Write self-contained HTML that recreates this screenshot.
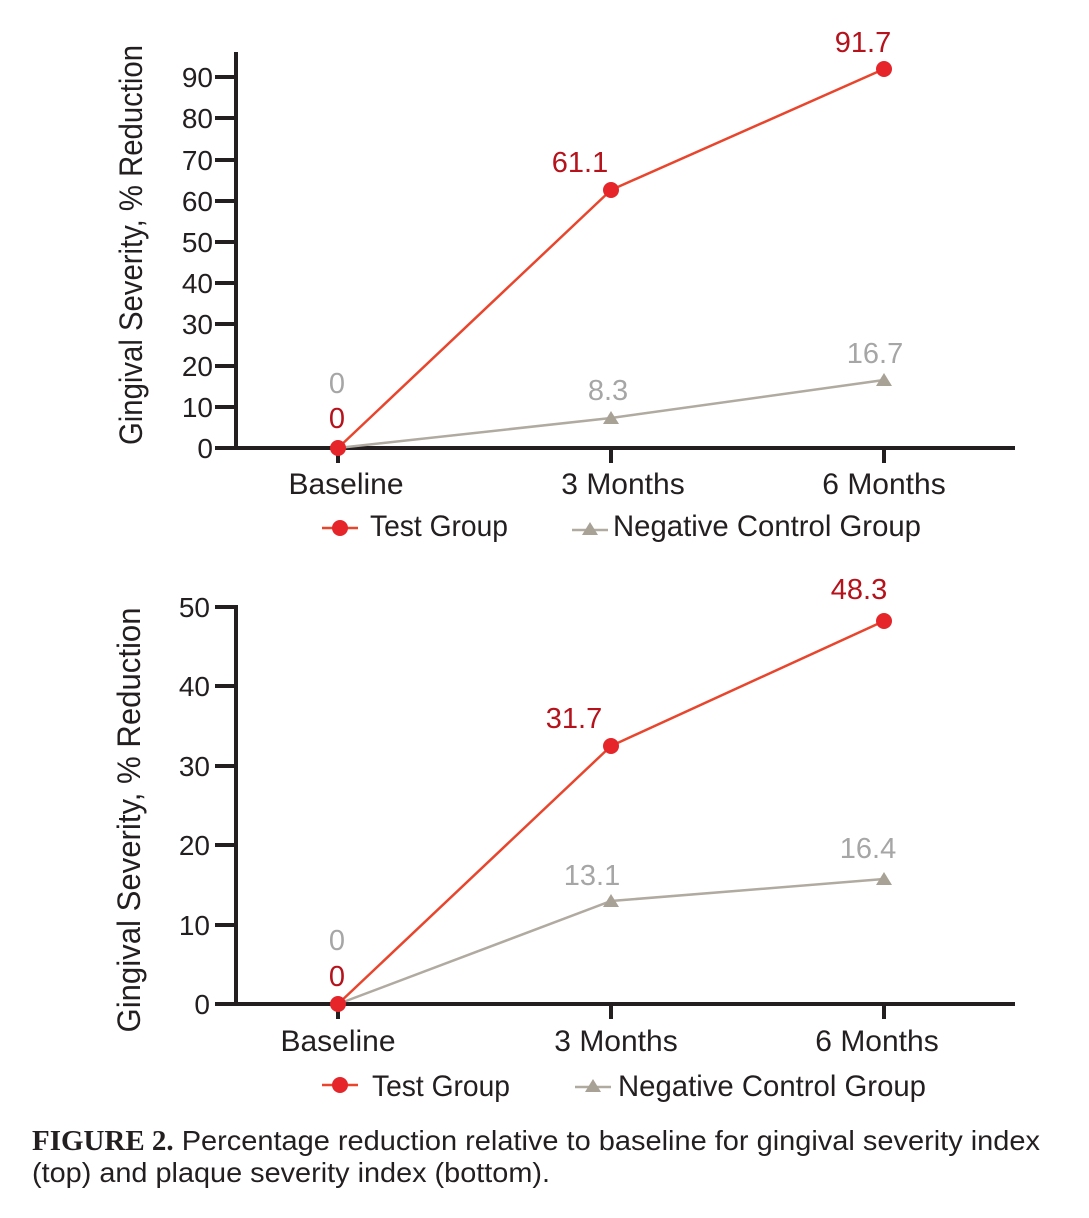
<!DOCTYPE html>
<html><head><style>
body{margin:0;background:#fff;}
svg{display:block;}
text{font-family:"Liberation Sans",sans-serif;}
</style></head><body>
<svg width="1089" height="1218" viewBox="0 0 1089 1218" xmlns="http://www.w3.org/2000/svg">
<!-- TOP CHART -->
<g stroke="#231f20" stroke-width="4" fill="none">
<line x1="236" y1="52" x2="236" y2="450"/>
<line x1="215" y1="448" x2="1015" y2="448"/>
<line x1="338" y1="448" x2="338" y2="463"/>
<line x1="611" y1="448" x2="611" y2="463"/>
<line x1="884" y1="448" x2="884" y2="463"/>
<line x1="215" y1="77" x2="236" y2="77"/>
<line x1="215" y1="118" x2="236" y2="118"/>
<line x1="215" y1="160" x2="236" y2="160"/>
<line x1="215" y1="201" x2="236" y2="201"/>
<line x1="215" y1="242" x2="236" y2="242"/>
<line x1="215" y1="283" x2="236" y2="283"/>
<line x1="215" y1="324" x2="236" y2="324"/>
<line x1="215" y1="366" x2="236" y2="366"/>
<line x1="215" y1="407" x2="236" y2="407"/>
</g>
<g font-size="28" fill="#231f20" text-anchor="end">
<text x="213" y="87">90</text><text x="213" y="128">80</text><text x="213" y="170">70</text>
<text x="213" y="211">60</text><text x="213" y="252">50</text><text x="213" y="293">40</text>
<text x="213" y="334">30</text><text x="213" y="376">20</text><text x="213" y="417">10</text>
<text x="213" y="458">0</text>
</g>
<text transform="translate(142,245) rotate(-90)" font-size="32" fill="#231f20" text-anchor="middle" textLength="400" lengthAdjust="spacingAndGlyphs">Gingival Severity, % Reduction</text>
<polyline points="338,448 611,418 884,380" stroke="#b0aaa0" stroke-width="2.5" fill="none"/>
<polygon points="611,411 603,424 619,424" fill="#a8a296"/>
<polygon points="884,373 876,386 892,386" fill="#a8a296"/>
<polyline points="338,448 611,190 884,69" stroke="#e8452c" stroke-width="2.5" fill="none"/>
<circle cx="338" cy="448" r="8" fill="#e5252a"/>
<circle cx="611" cy="190" r="8" fill="#e5252a"/>
<circle cx="884" cy="69" r="8" fill="#e5252a"/>
<g font-size="29" text-anchor="middle">
<text x="337" y="393" fill="#a6a6a6">0</text>
<text x="337" y="428" fill="#b5121b">0</text>
<text x="608" y="400" fill="#a6a6a6">8.3</text>
<text x="875" y="363" fill="#a6a6a6">16.7</text>
<text x="580" y="172" fill="#b5121b">61.1</text>
<text x="863" y="52" fill="#b5121b">91.7</text>
</g>
<g font-size="30" fill="#231f20" text-anchor="middle">
<text x="346" y="494">Baseline</text>
<text x="623" y="494">3 Months</text>
<text x="884" y="494">6 Months</text>
</g>
<line x1="322" y1="528" x2="358" y2="528" stroke="#e8452c" stroke-width="2.5"/>
<circle cx="340" cy="528" r="8" fill="#e5252a"/>
<text x="370" y="536" font-size="30" fill="#231f20" textLength="138" lengthAdjust="spacingAndGlyphs">Test Group</text>
<line x1="572" y1="530" x2="608" y2="530" stroke="#b0aaa0" stroke-width="2.5"/>
<polygon points="590,522 582,535 598,535" fill="#a8a296"/>
<text x="613" y="536" font-size="30" fill="#231f20" textLength="308" lengthAdjust="spacingAndGlyphs">Negative Control Group</text>

<!-- BOTTOM CHART -->
<g stroke="#231f20" stroke-width="4" fill="none">
<line x1="236" y1="605" x2="236" y2="1006"/>
<line x1="215" y1="1004" x2="1015" y2="1004"/>
<line x1="338" y1="1004" x2="338" y2="1019"/>
<line x1="611" y1="1004" x2="611" y2="1019"/>
<line x1="884" y1="1004" x2="884" y2="1019"/>
<line x1="215" y1="607" x2="236" y2="607"/>
<line x1="215" y1="686" x2="236" y2="686"/>
<line x1="215" y1="766" x2="236" y2="766"/>
<line x1="215" y1="845" x2="236" y2="845"/>
<line x1="215" y1="925" x2="236" y2="925"/>
</g>
<g font-size="28" fill="#231f20" text-anchor="end">
<text x="210" y="617">50</text><text x="210" y="696">40</text><text x="210" y="776">30</text>
<text x="210" y="855">20</text><text x="210" y="935">10</text><text x="210" y="1014">0</text>
</g>
<text transform="translate(140,820) rotate(-90)" font-size="32" fill="#231f20" text-anchor="middle" textLength="425" lengthAdjust="spacingAndGlyphs">Gingival Severity, % Reduction</text>
<polyline points="338,1004 611,901 884,879" stroke="#b0aaa0" stroke-width="2.5" fill="none"/>
<polygon points="611,894 603,907 619,907" fill="#a8a296"/>
<polygon points="884,872 876,885 892,885" fill="#a8a296"/>
<polyline points="338,1004 611,746 884,621" stroke="#e8452c" stroke-width="2.5" fill="none"/>
<circle cx="338" cy="1004" r="8" fill="#e5252a"/>
<circle cx="611" cy="746" r="8" fill="#e5252a"/>
<circle cx="884" cy="621" r="8" fill="#e5252a"/>
<g font-size="29" text-anchor="middle">
<text x="337" y="950" fill="#a6a6a6">0</text>
<text x="337" y="986" fill="#b5121b">0</text>
<text x="592" y="885" fill="#a6a6a6">13.1</text>
<text x="868" y="858" fill="#a6a6a6">16.4</text>
<text x="574" y="728" fill="#b5121b">31.7</text>
<text x="859" y="599" fill="#b5121b">48.3</text>
</g>
<g font-size="30" fill="#231f20" text-anchor="middle">
<text x="338" y="1051">Baseline</text>
<text x="616" y="1051">3 Months</text>
<text x="877" y="1051">6 Months</text>
</g>
<line x1="322" y1="1085" x2="358" y2="1085" stroke="#e8452c" stroke-width="2.5"/>
<circle cx="340" cy="1085" r="8" fill="#e5252a"/>
<text x="372" y="1096" font-size="30" fill="#231f20" textLength="138" lengthAdjust="spacingAndGlyphs">Test Group</text>
<line x1="575" y1="1087" x2="611" y2="1087" stroke="#b0aaa0" stroke-width="2.5"/>
<polygon points="593,1079 585,1092 601,1092" fill="#a8a296"/>
<text x="618" y="1096" font-size="30" fill="#231f20" textLength="308" lengthAdjust="spacingAndGlyphs">Negative Control Group</text>

<!-- CAPTION -->
<text x="32" y="1150" font-size="28" fill="#231f20" textLength="1008" lengthAdjust="spacingAndGlyphs"><tspan font-family="Liberation Serif" font-weight="bold">FIGURE 2.</tspan> Percentage reduction relative to baseline for gingival severity index</text>
<text x="32" y="1182" font-size="28" fill="#231f20" textLength="518" lengthAdjust="spacingAndGlyphs">(top) and plaque severity index (bottom).</text>
</svg>
</body></html>
